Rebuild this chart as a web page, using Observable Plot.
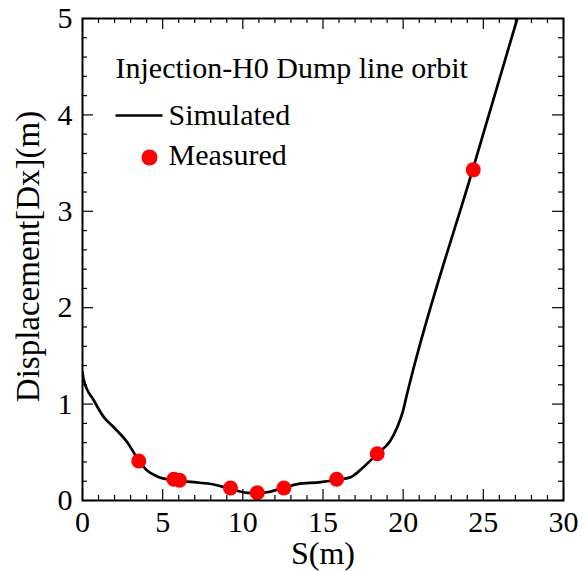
<!DOCTYPE html>
<html><head><meta charset="utf-8">
<script src="https://cdn.jsdelivr.net/npm/d3@7"></script>
<script src="https://cdn.jsdelivr.net/npm/@observablehq/plot@0.6"></script>
<style>body{margin:0;background:#fff}</style></head>
<body><div id="chart"></div>
<script>
// Simulated orbit
const simS  = [0, 0.08, 0.7, 1.33, 1.95, 2.79, 3.51, 4.03, 4.66, 5.7, 6.95, 8.19, 9.23, 10.27, 10.9, 11.5, 12.56, 13.4, 14.85, 15.9, 16.7, 17.55, 18.38, 19.2, 19.63, 19.94, 20.25, 20.46, 24.37, 27.12];
const simDx = [1.33, 1.25, 1.04, 0.865, 0.76, 0.605, 0.415, 0.31, 0.25, 0.21, 0.19, 0.166, 0.12, 0.08, 0.076, 0.086, 0.13, 0.17, 0.19, 0.215, 0.24, 0.35, 0.485, 0.62, 0.76, 0.9, 1.11, 1.25, 3.45, 5.0];
// Measured points
const measS  = [3.51, 5.7, 6.05, 9.23, 10.9, 12.56, 15.85, 18.38, 24.37];
const measDx = [0.41, 0.22, 0.21, 0.13, 0.08, 0.13, 0.22, 0.485, 3.43];
// Ticks
const xTicks = [0, 5, 10, 15, 20, 25, 30];
const yTicks = [0, 1, 2, 3, 4, 5];
const xMinor = d3.range(0, 31, 1).filter(v => v % 5 !== 0);
const yMinor = d3.range(0, 50, 2).map(v => v / 10).filter(v => !Number.isInteger(v));
// Texts
const legendTitle = "Injection-H0 Dump line orbit";
const legendSim = "Simulated";
const legendMeas = "Measured";
const xLabel = "S(m)";
const yLabel = "Displacement[Dx](m)";

const sim = simS.map((s, i) => ({s, d: simDx[i]}));
const meas = measS.map((s, i) => ({s, d: measDx[i]}));

const W = 588, H = 571, mL = 82, mT = 18, mR = 25, mB = 71;
const iw = W - mL - mR, ih = H - mT - mB;
const font = "'Liberation Serif', 'Times New Roman', serif";
const FS = 30;
const hline = {draw(ctx, size) { const r = Math.sqrt(size / Math.PI); ctx.moveTo(-r, 0); ctx.lineTo(r, 0); }};

const chart = Plot.plot({
  width: W, height: H,
  marginLeft: mL, marginTop: mT, marginRight: mR, marginBottom: mB,
  style: {fontFamily: font, background: "white", color: "black"},
  x: {domain: [0, 30]},
  y: {domain: [0, 5]},
  marks: [
    Plot.axisX({ticks: xTicks, tickSize: 0, tickPadding: 10, fontSize: FS, label: null, tickFormat: d => d}),
    Plot.axisY({ticks: yTicks, tickSize: 0, tickPadding: 10, fontSize: FS, label: null, tickFormat: d => d}),
    // inward ticks: bottom/top
    Plot.tickX(xTicks, {x: d => d, insetTop: ih - 11, stroke: "black", strokeWidth: 1.2}),
    Plot.tickX(xTicks, {x: d => d, insetBottom: ih - 11, stroke: "black", strokeWidth: 1.2}),
    Plot.tickX(xMinor, {x: d => d, insetTop: ih - 5, stroke: "black", strokeWidth: 1.2}),
    Plot.tickX(xMinor, {x: d => d, insetBottom: ih - 5, stroke: "black", strokeWidth: 1.2}),
    // inward ticks: left/right
    Plot.tickY(yTicks, {y: d => d, insetRight: iw - 11, stroke: "black", strokeWidth: 1.2}),
    Plot.tickY(yTicks, {y: d => d, insetLeft: iw - 11, stroke: "black", strokeWidth: 1.2}),
    Plot.tickY(yMinor, {y: d => d, insetRight: iw - 5, stroke: "black", strokeWidth: 1.2}),
    Plot.tickY(yMinor, {y: d => d, insetLeft: iw - 5, stroke: "black", strokeWidth: 1.2}),
    Plot.line(sim, {x: "s", y: "d", stroke: "black", strokeWidth: 2.7, curve: "monotone-x", clip: true}),
    Plot.dot(meas, {x: "s", y: "d", r: 7.5, fill: "#ff0000", stroke: "none"}),
    Plot.frame({stroke: "black", strokeWidth: 2}),
    // legend
    Plot.text([legendTitle], {frameAnchor: "top-left", dx: 33, dy: 50, text: d => d, textAnchor: "start", lineAnchor: "middle", fontSize: FS, fill: "black"}),
    Plot.dot([legendSim], {frameAnchor: "top-left", dx: 56.5, dy: 97, symbol: hline, r: 23.5, stroke: "black", strokeWidth: 2.7}),
    Plot.text([legendSim], {frameAnchor: "top-left", dx: 86, dy: 97, text: d => d, textAnchor: "start", lineAnchor: "middle", fontSize: FS, fill: "black"}),
    Plot.dot([legendMeas], {frameAnchor: "top-left", dx: 67, dy: 139, r: 8, fill: "#ff0000"}),
    Plot.text([legendMeas], {frameAnchor: "top-left", dx: 86, dy: 137, text: d => d, textAnchor: "start", lineAnchor: "middle", fontSize: FS, fill: "black"}),
    // axis labels
    Plot.text([xLabel], {frameAnchor: "bottom", dy: 53, text: d => d, textAnchor: "middle", lineAnchor: "middle", fontSize: 32, fill: "black"}),
    Plot.text([yLabel], {frameAnchor: "left", dx: -54.5, dy: -3, rotate: -90, text: d => d, textAnchor: "middle", lineAnchor: "middle", fontSize: 33, fill: "black"})
  ]
});
document.getElementById("chart").appendChild(chart);
</script>
</body></html>
